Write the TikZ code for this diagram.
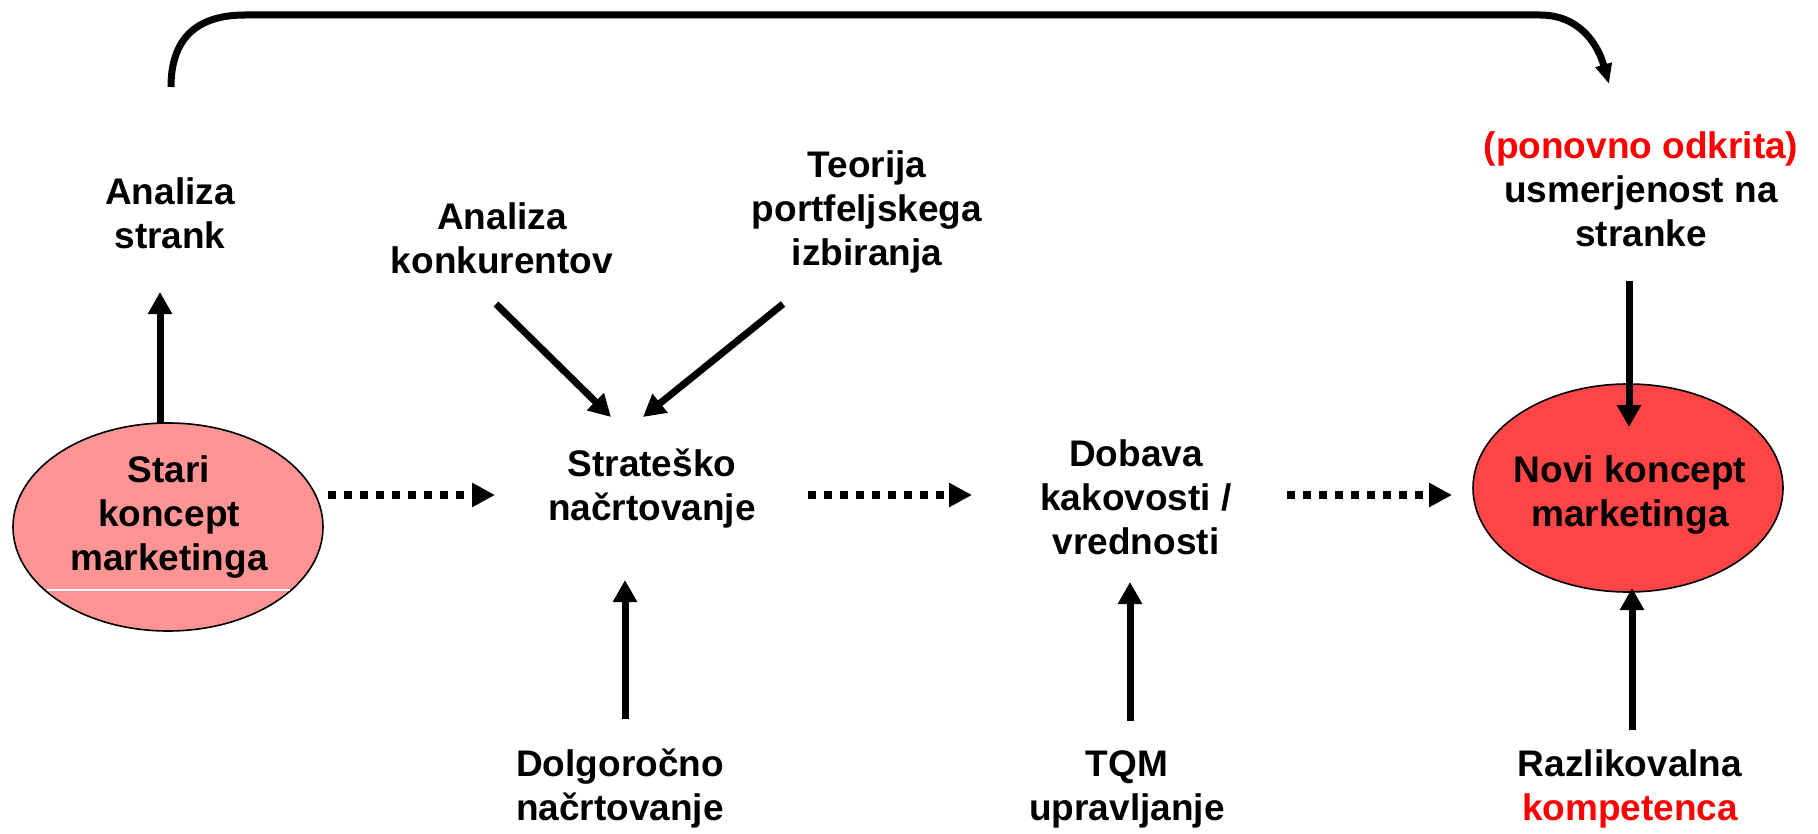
\documentclass[tikz,border=0pt]{standalone}
\usepackage{fontspec}
\setmainfont{Liberation Sans}
\usetikzlibrary{shapes.geometric,arrows.meta}
\definecolor{oldfill}{HTML}{FF9494}
\definecolor{newfill}{HTML}{FF4545}
\definecolor{redtxt}{HTML}{FF0000}
\begin{document}
\begin{tikzpicture}[x=0.5pt,y=-0.5pt,
  lbl/.style={align=center,inner sep=0pt,font=\fontsize{18.5}{22}\selectfont\bfseries},
  oval/.style={ellipse,draw=black,line width=0.8pt,inner sep=0pt,minimum width=155pt,minimum height=104pt},
  arr/.style={line width=3.5pt,-{Triangle[length=11pt,width=11.5pt]}},
  dotarr/.style={line width=4pt,dash pattern=on 4pt off 4pt,-{Triangle[length=11.5pt,width=11.5pt]}},
  bigarr/.style={line width=3.5pt,-{Triangle[length=10pt,width=8pt]}}]
\useasboundingbox (0,0) rectangle (1818,834);
% ellipses
\node[oval,fill=oldfill] (stari) at (168,527) {};
\draw[white,line width=0.6pt] (47,590) -- (290,590);
\node[lbl] (staritxt) at (169,517) {Stari\\koncept\\marketinga};
\node[oval,fill=newfill] (novi) at (1628,488) {};
\node[lbl] (novitxt) at (1630,495) {Novi koncept\\marketinga};
% text nodes
\node[lbl] (strank) at (170,213) {Analiza\\strank};
\node[lbl] (konk) at (502,238) {Analiza\\konkurentov};
\node[lbl] (teor) at (867,212) {Teorija\\portfeljskega\\izbiranja};
\node[lbl] (strat) at (652,489) {Strateško\\načrtovanje};
\node[lbl] (dobava) at (1136,497) {Dobava\\kakovosti /\\vrednosti};
\node[lbl] (dolg) at (620,789) {Dolgoročno\\načrtovanje};
\node[lbl] (tqm) at (1127,789) {TQM\\upravljanje};
\node[lbl] (razl) at (1630,789) {Razlikovalna\\\textcolor{redtxt}{kompetenca}};
\node[lbl] (usm) at (1641,189) {\textcolor{redtxt}{(ponovno odkrita)}\\usmerjenost na\\stranke};
% connector end points
\coordinate (a1s) at (160,423); \coordinate (a1e) at (160,292);
\coordinate (k1s) at (496,304); \coordinate (k1e) at (611,417);
\coordinate (t1s) at (783,304); \coordinate (t1e) at (643,417);
\coordinate (d1s) at (328,495); \coordinate (d1e) at (495,495);
\coordinate (d2s) at (808,495); \coordinate (d2e) at (972,495);
\coordinate (d3s) at (1287,495); \coordinate (d3e) at (1452,495);
\coordinate (l1s) at (625,719); \coordinate (l1e) at (625,580);
\coordinate (q1s) at (1130,721); \coordinate (q1e) at (1130,582);
\coordinate (u1s) at (1629,281); \coordinate (u1e) at (1629,427);
\coordinate (r1s) at (1632,730); \coordinate (r1e) at (1632,588);
\coordinate (arcs) at (171,87); \coordinate (arce) at (1609,84);
% connectors
\draw[arr] (a1s) -- (a1e);
\draw[arr] (k1s) -- (k1e);
\draw[arr] (t1s) -- (t1e);
\draw[dotarr] (d1s) -- (d1e);
\draw[dotarr] (d2s) -- (d2e);
\draw[dotarr] (d3s) -- (d3e);
\draw[arr] (l1s) -- (l1e);
\draw[arr] (q1s) -- (q1e);
\draw[arr] (u1s) -- (u1e);
\draw[arr] (r1s) -- (r1e);
\draw[bigarr] (arcs) .. controls (171,40) and (195,15) .. (245,15) -- (1540,15) .. controls (1580,15) and (1598,45) .. (arce);
\end{tikzpicture}
\end{document}
